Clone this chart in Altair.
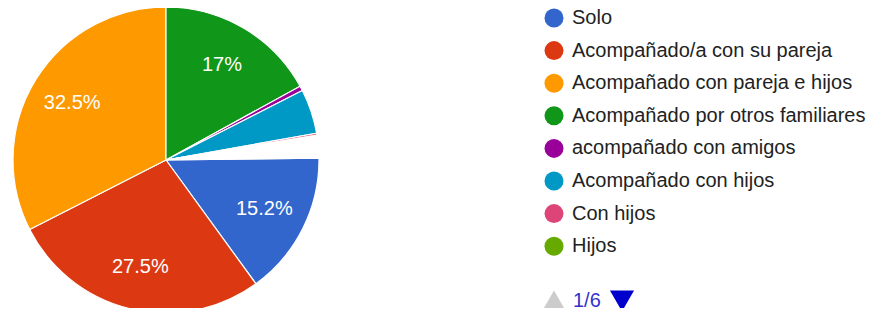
import math
import altair as alt
import pandas as pd

# ---- data ----
names = [
    "Solo",
    "Acompañado/a con su pareja",
    "Acompañado con pareja e hijos",
    "Acompañado por otros familiares",
    "acompañado con amigos",
    "Acompañado con hijos",
    "Con hijos",
    "Hijos",
    "Otras respuestas",
]
values = [15.2, 27.5, 32.5, 17, 0.5, 4.7, 0.2, 0.1, 2.3]
colors = ["#3366cc", "#dc3912", "#ff9900", "#109618", "#990099",
          "#0099c6", "#dd4477", "#66aa00", "#ffffff"]
legend_names = names[:8]
page_label = ["1/6"]

FONT = "Liberation Sans"

df = pd.DataFrame({"name": names, "value": values, "idx": list(range(len(names)))})

# pie rotated so that the first three slices end exactly at 12 o'clock
start = 2 * math.pi * (1 - sum(values[:3]) / 100)

base = alt.Chart(df).encode(
    theta=alt.Theta("value:Q", stack=True,
                    scale=alt.Scale(range=[start, start + 2 * math.pi])),
    order=alt.Order("idx:Q"),
)

arcs = base.mark_arc(outerRadius=153, stroke="white", strokeWidth=1.2).encode(
    x=alt.value(158),
    y=alt.value(152),
    color=alt.Color(
        "name:N",
        scale=alt.Scale(domain=names, range=colors),
        legend=alt.Legend(
            values=legend_names,
            title=None,
            orient="none",
            legendX=536,
            legendY=0,
            symbolType="circle",
            symbolSize=361,
            symbolStrokeWidth=0,
            labelFontSize=20,
            labelFont=FONT,
            labelColor="#222222",
            labelLimit=400,
            rowPadding=12.6,
            labelOffset=8,
            padding=0,
        ),
    ),
)

labels = base.transform_calculate(
    label="datum.value >= 10 ? datum.value + '%' : ''"
).mark_text(radius=110, fontSize=20, font=FONT, color="white").encode(
    x=alt.value(158),
    y=alt.value(152),
    text="label:N",
)

pager_df = pd.DataFrame({"t": page_label})
pager_text = alt.Chart(pager_df).mark_text(
    fontSize=20, font=FONT, color="#3333cc", align="left", baseline="middle"
).encode(x=alt.value(565), y=alt.value(293), text="t:N")

up = alt.Chart(pager_df).mark_point(
    shape="triangle-up", filled=True, size=580, color="#cccccc", opacity=1
).encode(x=alt.value(546), y=alt.value(293))

down = alt.Chart(pager_df).mark_point(
    shape="triangle-down", filled=True, size=580, color="#0000cc", opacity=1
).encode(x=alt.value(614), y=alt.value(293))

chart = alt.layer(arcs, labels, pager_text, up, down).properties(
    width=862, height=300, padding=0, autosize=alt.AutoSizeParams(type="none")
).configure_view(stroke=None)

chart.save("out.html", embed_options={"renderer": "svg", "actions": False})
